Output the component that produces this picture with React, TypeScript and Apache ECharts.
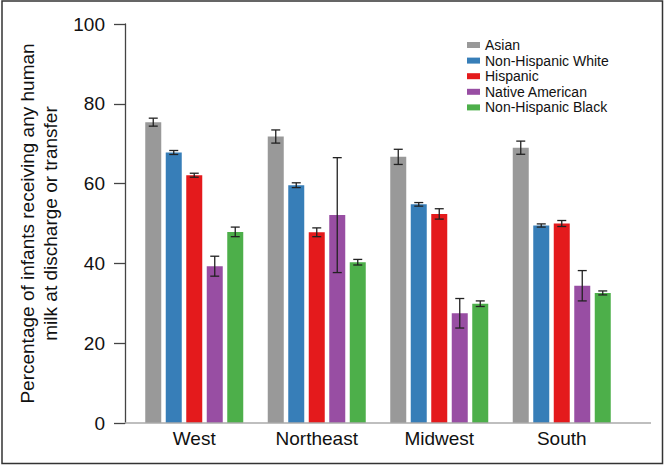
import React, { useEffect, useRef } from "react";
import * as echarts from "echarts";

const categories = ["West", "Northeast", "Midwest", "South"];
const seriesNames = ["Asian", "Non-Hispanic White", "Hispanic", "Native American", "Non-Hispanic Black"];
const colors = ["#999999", "#377eb8", "#e41a1c", "#984ea3", "#4daf4a"];

const asian = [75.4, 71.8, 66.7, 69.0];
const asianErr = [1.0, 1.65, 1.9, 1.65];
const white = [67.8, 59.6, 54.8, 49.5];
const whiteErr = [0.5, 0.6, 0.45, 0.4];
const hispanic = [62.1, 47.8, 52.4, 50.0];
const hispanicErr = [0.5, 1.1, 1.3, 0.75];
const native = [39.3, 52.1, 27.5, 34.4];
const nativeErr = [2.5, 14.4, 3.7, 3.8];
const black = [47.9, 40.3, 29.9, 32.6];
const blackErr = [1.2, 0.7, 0.7, 0.5];

const yTicks = [0, 20, 40, 60, 80, 100];

const values = [asian, white, hispanic, native, black];
const errors = [asianErr, whiteErr, hispanicErr, nativeErr, blackErr];

const FONT = "'Liberation Sans', Arial, Helvetica, sans-serif";
const BAR_W = 16;
const BAR_GAP = 4.5;

export default function App() {
  const ref = useRef<HTMLDivElement>(null);
  useEffect(() => {
    document.body.style.margin = "0";
    const chart = echarts.init(ref.current!, null, { renderer: "svg" });
    const errData: number[][] = [];
    values.forEach((arr, s) => {
      arr.forEach((v, c) => {
        errData.push([c, v - errors[s][c], v + errors[s][c], s]);
      });
    });
    const n = seriesNames.length;
    const option: any = {
      animation: false,
      backgroundColor: "#ffffff",
      textStyle: { fontFamily: FONT },
      grid: { left: 133, right: 43, top: 24, bottom: 45, containLabel: false },
      legend: {
        orient: "vertical",
        left: 462,
        top: 33,
        itemWidth: 13,
        itemHeight: 6,
        itemGap: 1.6,
        icon: "rect",
        data: seriesNames,
        textStyle: { fontSize: 14, lineHeight: 14, color: "#111", fontFamily: FONT },
      },
      xAxis: {
        type: "category",
        data: categories,
        axisLine: { show: false },
        axisTick: { show: false },
        axisLabel: { fontSize: 19, color: "#111", margin: 6, fontFamily: FONT },
      },
      yAxis: {
        type: "value",
        min: 0,
        max: 100,
        interval: 20,
        offset: 8,
        splitLine: { show: false },
        axisLine: { show: true, lineStyle: { color: "#444", width: 1.3 } },
        axisTick: { show: true, length: 11, lineStyle: { color: "#444", width: 1.3 } },
        axisLabel: {
          fontSize: 19,
          color: "#111",
          margin: 20,
          fontFamily: FONT,
          formatter: (v: number) => (yTicks.includes(v) ? String(v) : ""),
        },
        name: "Percentage of infants receiving any human\nmilk at discharge or transfer",
        nameLocation: "middle",
        nameGap: 62,
        nameTextStyle: { fontSize: 19, lineHeight: 23, color: "#111", fontFamily: FONT },
      },
      series: [
        ...seriesNames.map((name, s) => ({
          type: "bar",
          name,
          data: values[s],
          barWidth: BAR_W,
          barGap: (BAR_GAP / BAR_W) * 100 + "%",
          itemStyle: { color: colors[s] },
        })),
        {
          type: "custom",
          name: "err",
          data: errData,
          z: 10,
          renderItem: (params: any, api: any) => {
            const c = api.value(0);
            const s = api.value(3);
            const cx = api.coord([c, 0])[0] + (s - (n - 1) / 2) * (BAR_W + BAR_GAP);
            const yl = api.coord([c, api.value(1)])[1];
            const yh = api.coord([c, api.value(2)])[1];
            const hw = 4.5;
            const st = { stroke: "#222", lineWidth: 1.3 };
            return {
              type: "group",
              children: [
                { type: "line", shape: { x1: cx, y1: yl, x2: cx, y2: yh }, style: st },
                { type: "line", shape: { x1: cx - hw, y1: yl, x2: cx + hw, y2: yl }, style: st },
                { type: "line", shape: { x1: cx - hw, y1: yh, x2: cx + hw, y2: yh }, style: st },
              ],
            };
          },
        },
      ],
      graphic: [
        {
          type: "line",
          shape: { x1: 125, y1: 423, x2: 651, y2: 423 },
          style: { stroke: "#aaaaaa", lineWidth: 1.3 },
          z: 5,
        },
        {
          type: "rect",
          shape: { x: 2, y: 1, width: 660.5, height: 462.5 },
          style: { fill: "none", stroke: "#333", lineWidth: 1.5 },
          silent: true,
        },
      ],
    };
    chart.setOption(option);
    return () => chart.dispose();
  }, []);
  return (
    <div
      ref={ref}
      style={{ position: "absolute", left: 0, top: 0, width: 666, height: 468 }}
    />
  );
}
